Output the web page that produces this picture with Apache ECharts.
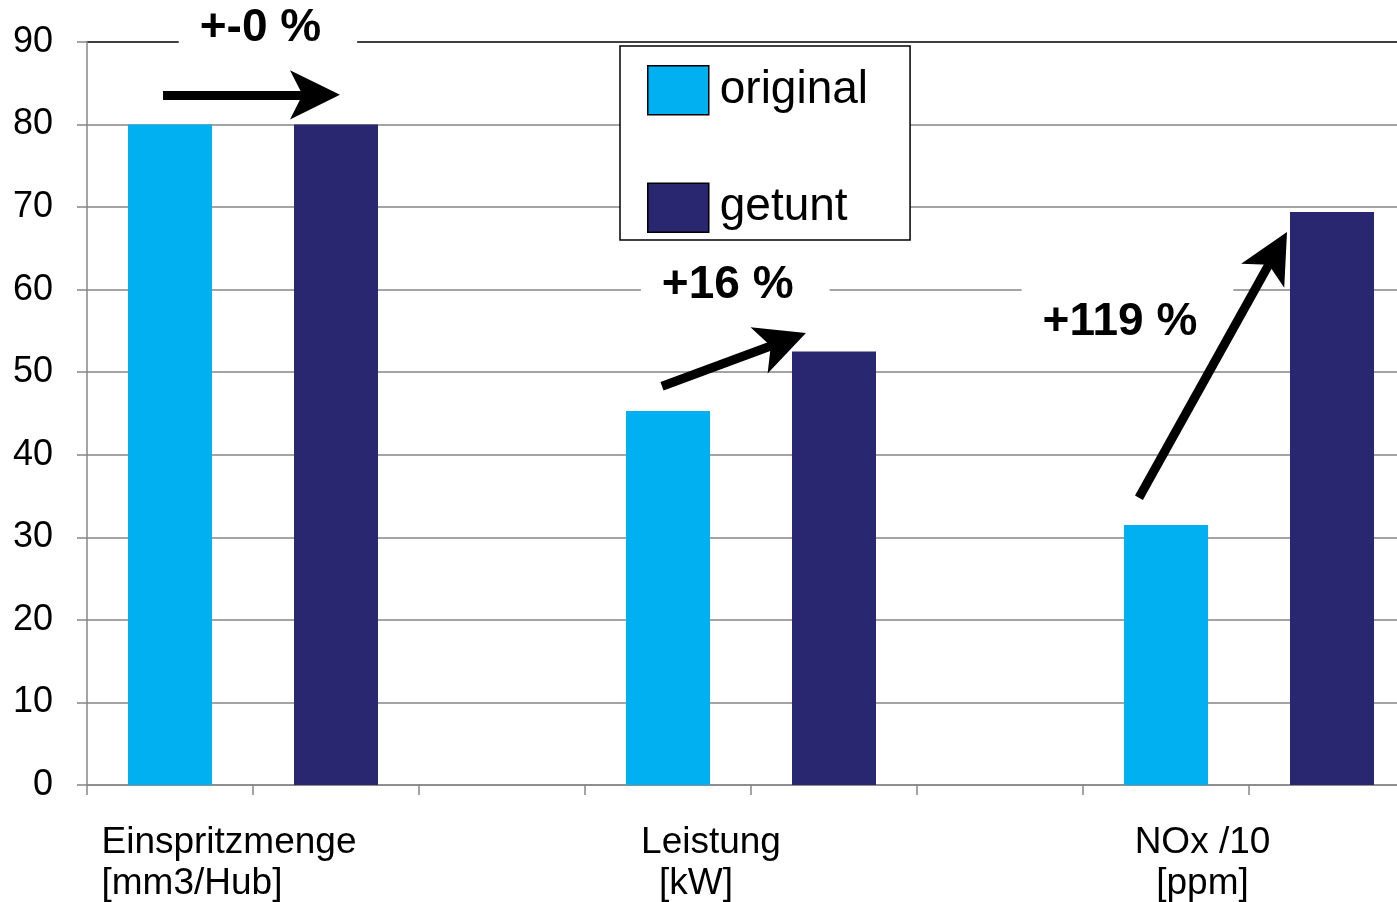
<!DOCTYPE html>
<html>
<head>
<meta charset="utf-8">
<script src="https://cdn.jsdelivr.net/npm/echarts@6/dist/echarts.min.js"></script>
<style>
  html, body { margin: 0; padding: 0; background: #ffffff; }
  #chart { width: 1397px; height: 902px; }
</style>
</head>
<body>
<div id="chart"></div>
<script>
// ---- data ----
const categories = ['Einspritzmenge\n[mm3/Hub]', 'Leistung\n[kW]', 'NOx /10\n[ppm]'];
const seriesNames = ['original', 'getunt'];
const originalValues = [80, 45.3, 31.5];
const getuntValues = [80, 52.5, 69.4];
const yMin = 0, yMax = 90, yStep = 10;
// change annotations (text + anchor in data units of the slot value axis / y axis)
const changeLabels = ['+-0 %', '+16 %', '+119 %'];
const changeLabelX = [1.090, 3.905, 6.268];
const changeLabelY = [91.7, 60.57, 56.08];
// arrows (start / tip in data units)
const arrowStartX = [0.458, 3.464, 6.337];
const arrowStartY = [83.6, 48.3, 34.8];
const arrowTipX = [1.524, 4.331, 7.229];
const arrowTipY = [83.6, 54.75, 66.99];

// ---- styling ----
const FONT = "'Liberation Sans', Arial, sans-serif";
const GRAY = '#868686';
const C_ORIG = '#00B0F0';
const C_TUNED = '#29276F';
const HEAD_BACK = 26; // px the shaft stops before the arrow tip

// build slot layout: [orig, tuned, gap] per category
const nSlots = categories.length * 3 - 1;
const slotNames = [], origData = [], tunedData = [];
for (let i = 0; i < nSlots; i++) {
  const g = Math.floor(i / 3), r = i % 3;
  slotNames.push('s' + i);
  origData.push(r === 0 ? originalValues[g] : '-');
  tunedData.push(r === 1 ? getuntValues[g] : '-');
}
// rich style keys per category label line
const labelStyleKeys = [['e', 'e'], ['l', 'k'], ['n', 'n']];

const splitColors = [];
for (let v = yMin; v <= yMax; v += yStep) splitColors.push(v === yMax ? '#000000' : GRAY);

const richBase = { fontSize: 37, lineHeight: 41, fontFamily: FONT, color: '#000' };

const chart = echarts.init(document.getElementById('chart'), null, { renderer: 'canvas' });
chart.setOption({
  animation: false,
  backgroundColor: '#ffffff',
  grid: { left: 87, top: 42, width: 1328, height: 743, containLabel: false, outerBoundsMode: 'none' },
  legend: {
    data: seriesNames,
    orient: 'vertical',
    left: 620, top: 46,
    padding: [19, 42, 7, 27],
    itemWidth: 61, itemHeight: 49, itemGap: 67,
    icon: 'rect',
    backgroundColor: '#ffffff',
    borderColor: '#000000', borderWidth: 1.5,
    itemStyle: { borderColor: '#000000', borderWidth: 1.5 },
    textStyle: { fontSize: 46, fontFamily: FONT, color: '#000000', padding: [0, 0, 0, 6], lineHeight: 49 }
  },
  xAxis: [
    {
      type: 'category', data: slotNames, position: 'bottom', boundaryGap: true,
      axisLine: { show: true, lineStyle: { color: GRAY, width: 1.5 } },
      axisTick: { show: true, length: 10, interval: 0, lineStyle: { color: GRAY, width: 1.5 } },
      axisLabel: { show: false },
      splitLine: { show: false }
    },
    {
      type: 'value', min: 0, max: nSlots, interval: 1, position: 'bottom',
      axisLine: { show: false }, axisTick: { show: false }, splitLine: { show: false },
      axisLabel: {
        show: true, margin: 37,
        formatter: function (v) {
          const k = Math.round(v);
          if ((k - 1) % 3 !== 0) return '';
          const g = (k - 1) / 3;
          if (g < 0 || g >= categories.length) return '';
          const keys = labelStyleKeys[g];
          return categories[g].split('\n').map((t, j) => '{' + keys[j] + '|' + t + '}').join('\n');
        },
        rich: {
          e: Object.assign({ align: 'left', padding: [0, 48, 0, 0] }, richBase),
          l: Object.assign({ align: 'center', padding: [0, 80, 0, 0] }, richBase),
          k: Object.assign({ align: 'center', padding: [0, 110, 0, 0] }, richBase),
          n: Object.assign({ align: 'center', padding: [0, 93, 0, 0] }, richBase)
        }
      }
    }
  ],
  yAxis: {
    type: 'value', min: yMin, max: yMax, interval: yStep,
    axisLine: { show: true, lineStyle: { color: GRAY, width: 1.5 } },
    axisTick: { show: true, length: 10, lineStyle: { color: GRAY, width: 1.5 } },
    axisLabel: { fontSize: 36, fontFamily: FONT, color: '#000000', margin: 34 },
    splitLine: { show: true, lineStyle: { color: splitColors, width: 1.5 } }
  },
  series: [
    {
      name: seriesNames[0], type: 'bar', xAxisIndex: 0, yAxisIndex: 0,
      data: origData, barWidth: 84, barGap: '-100%',
      itemStyle: { color: C_ORIG }, z: 2
    },
    {
      name: seriesNames[1], type: 'bar', xAxisIndex: 0, yAxisIndex: 0,
      data: tunedData, barWidth: 84, barGap: '-100%',
      itemStyle: { color: C_TUNED }, z: 2
    },
    {
      id: 'changes', name: 'changes', type: 'scatter', xAxisIndex: 1, yAxisIndex: 0,
      clip: false, symbolSize: 0, z: 4, silent: true,
      itemStyle: { opacity: 1 },
      data: changeLabels.map((t, i) => ({ value: [changeLabelX[i], changeLabelY[i]], name: t })),
      label: {
        show: true, position: 'inside', formatter: p => p.name, opacity: 1,
        fontSize: 46, fontWeight: 'bold', fontFamily: FONT, color: '#000000',
        backgroundColor: '#ffffff', padding: [16, 36, 12, 21]
      }
    },
    {
      id: 'heads', name: 'heads', type: 'lines', coordinateSystem: 'cartesian2d', xAxisIndex: 1, yAxisIndex: 0,
      z: 6, silent: true,
      symbol: ['none', 'arrow'], symbolSize: [10, [37, 50]],
      lineStyle: { color: '#000000', width: 0, opacity: 1, curveness: 0 },
      data: arrowStartX.map((x, i) => ({ coords: [[x, arrowStartY[i]], [arrowTipX[i], arrowTipY[i]]] }))
    },
    {
      id: 'shafts', name: 'shafts', type: 'lines', coordinateSystem: 'cartesian2d', xAxisIndex: 1, yAxisIndex: 0,
      z: 5, silent: true,
      symbol: ['none', 'none'],
      lineStyle: { color: '#000000', width: 9, opacity: 1, curveness: 0, cap: 'butt' },
      data: []
    }
  ]
});

// shafts stop a little before each tip so the butt end stays hidden in the arrow head
const finder = { seriesId: 'heads' };
const shaftData = arrowStartX.map((x, i) => {
  const a = chart.convertToPixel(finder, [x, arrowStartY[i]]);
  const b = chart.convertToPixel(finder, [arrowTipX[i], arrowTipY[i]]);
  const dx = b[0] - a[0], dy = b[1] - a[1];
  const L = Math.hypot(dx, dy);
  const e = chart.convertFromPixel(finder, [b[0] - dx / L * HEAD_BACK, b[1] - dy / L * HEAD_BACK]);
  return { coords: [[x, arrowStartY[i]], e] };
});
chart.setOption({ series: [{ id: 'shafts', data: shaftData }] });
</script>
</body>
</html>
